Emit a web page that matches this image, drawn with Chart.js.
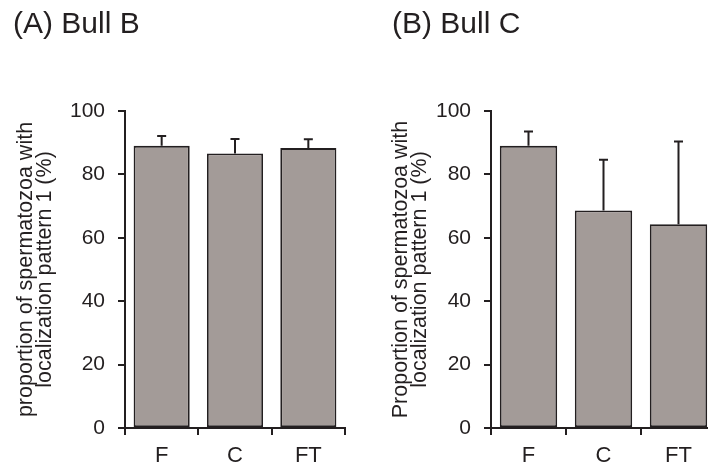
<!DOCTYPE html>
<html>
<head>
<meta charset="utf-8">
<script src="https://cdn.jsdelivr.net/npm/chart.js@4/dist/chart.umd.min.js"></script>
<style>
  html, body { margin: 0; padding: 0; background: #fff; overflow: hidden; width: 708px; height: 467px; }
  canvas { position: absolute; top: 0; }
  #chartB { left: 0; }
  #chartC { left: 354px; }
</style>
</head>
<body>
<canvas id="chartB" width="354" height="467"></canvas>
<canvas id="chartC" width="380" height="467"></canvas>
<script>
const categories = ['F', 'C', 'FT'];
const bullBMeans = [89.0, 86.6, 88.3];
const bullBSD = [3.1, 4.6, 2.8];
const bullCMeans = [89.0, 68.6, 64.3];
const bullCSD = [4.5, 16.0, 26.1];
const yMin = 0;
const yMax = 100;
const yStep = 20;

const ink = '#231f20';
const barFill = '#a39b98';
const fontFamily = '"Liberation Sans", Arial, sans-serif';

// draws the upper half of each error bar (line + cap) above the bar
const errorBars = {
  id: 'errorBars',
  afterDatasetsDraw(chart, args, opts) {
    const ctx = chart.ctx;
    const yScale = chart.scales.y;
    const meta = chart.getDatasetMeta(0);
    const means = chart.data.datasets[0].data;
    ctx.save();
    ctx.strokeStyle = ink;
    ctx.lineWidth = 2;
    meta.data.forEach((bar, i) => {
      const top = yScale.getPixelForValue(means[i] + opts.sd[i]);
      ctx.beginPath();
      ctx.moveTo(bar.x, bar.y);
      ctx.lineTo(bar.x, top);
      ctx.moveTo(bar.x - 4.5, top);
      ctx.lineTo(bar.x + 4.5, top);
      ctx.stroke();
    });
    ctx.restore();
  }
};

function makeChart(id, title, yTitle, means, sd, box) {
  return new Chart(document.getElementById(id), {
    type: 'bar',
    data: {
      labels: categories,
      datasets: [{
        data: means,
        backgroundColor: barFill,
        borderColor: ink,
        borderWidth: 1.8,
        borderSkipped: false,
        barPercentage: 0.765,
        categoryPercentage: 1
      }]
    },
    options: {
      responsive: false,
      animation: false,
      layout: { padding: { left: box.left, right: box.right, top: 0, bottom: 0 } },
      plugins: {
        legend: { display: false },
        tooltip: { enabled: false },
        title: {
          display: true,
          text: title,
          align: 'start',
          color: ink,
          font: { family: fontFamily, size: 30, weight: 'normal', lineHeight: 1.2 },
          padding: { top: 7, bottom: 68 }
        },
        errorBars: { sd: sd }
      },
      scales: {
        x: {
          grid: { display: true, drawOnChartArea: false, drawTicks: true, tickLength: 7, color: ink, lineWidth: 2, offset: true },
          border: { display: true, color: ink, width: 2 },
          ticks: { color: ink, padding: 8, font: { family: fontFamily, size: 22 } },
          afterFit: (scale) => { scale.height = 39; }
        },
        y: {
          min: yMin,
          max: yMax,
          grid: { display: true, drawOnChartArea: false, drawTicks: true, tickLength: 7, color: ink, lineWidth: 2 },
          border: { display: true, color: ink, width: 2 },
          ticks: { stepSize: yStep, color: ink, padding: 13, font: { family: fontFamily, size: 21 } },
          title: {
            display: true,
            text: yTitle,
            color: ink,
            font: { family: fontFamily, size: 21.5, lineHeight: '19px' },
            padding: { top: box.titlePad, bottom: 0 }
          },
          afterFit: (scale) => { scale.width = box.axisWidth; }
        }
      }
    },
    plugins: [errorBars]
  });
}

makeChart('chartB', '(A) Bull B',
  ['proportion of spermatozoa with', 'localization pattern 1 (%)'],
  bullBMeans, bullBSD,
  { left: 13, right: 9, axisWidth: 112, titlePad: 4 });

makeChart('chartC', '(B) Bull C',
  ['Proportion of spermatozoa with', 'localization pattern 1 (%)'],
  bullCMeans, bullCSD,
  { left: 38, right: 18, axisWidth: 99, titlePad: 0 });
</script>
</body>
</html>
